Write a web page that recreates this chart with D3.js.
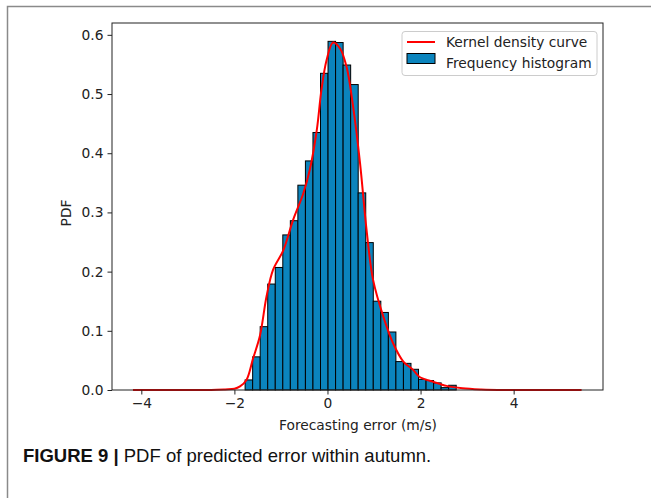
<!DOCTYPE html>
<html>
<head>
<meta charset="utf-8">
<script src="https://cdn.jsdelivr.net/npm/d3@7"></script>
<style>
  body { margin: 0; background: #fff; }
  svg { display: block; }
</style>
</head>
<body>
<script>
//histogram bins (left edge of first bin, bin width) and bar heights
var binStart = -1.77,
    binWidth = 0.162;
var binHeights = [0.017, 0.056, 0.107, 0.179, 0.207, 0.262, 0.286, 0.346, 0.387, 0.435,
                  0.535, 0.589, 0.587, 0.549, 0.516, 0.333, 0.249, 0.150, 0.131, 0.098,
                  0.048, 0.045, 0.035, 0.018, 0.016, 0.012, 0.004, 0.008];

//kernel density curve
var kdeX = [-4.18, -3.0, -2.5, -2.2, -2.0, -1.88, -1.74, -1.60, -1.45, -1.31, -1.17, -0.95,
            -0.74, -0.52, -0.38, -0.23, -0.13, -0.02, 0.12, 0.27, 0.41, 0.55, 0.70, 0.84,
            0.98, 1.20, 1.41, 1.63, 1.84, 1.98, 2.27, 2.56, 2.9, 3.3, 3.8, 4.5, 5.46];
var kdeY = [0, 0, 0, 0.001, 0.002, 0.006, 0.017, 0.053, 0.092, 0.158, 0.203, 0.236,
            0.287, 0.332, 0.372, 0.439, 0.507, 0.557, 0.587, 0.577, 0.546, 0.479, 0.383, 0.270,
            0.186, 0.124, 0.079, 0.048, 0.034, 0.022, 0.014, 0.007, 0.003, 0.001, 0, 0, 0];

var xTicks = [-4, -2, 0, 2, 4],
    yTicks = [0, 0.1, 0.2, 0.3, 0.4, 0.5, 0.6];

var width = 651,
    height = 498,
    fontSize = "13.8px";

var svg = d3.select("body")
    .append("svg")
    .attr("width", width)
    .attr("height", height);

//figure frame (top and left edges)
svg.append("path")
    .attr("d", "M7.5,498V6.5H651")
    .attr("fill", "none")
    .attr("stroke", "#8a8a8a")
    .attr("stroke-width", 1.5);

var x = d3.scaleLinear().domain([-4.63, 5.92]).range([112, 603]);
var y = d3.scaleLinear().domain([0, 0.62]).range([390, 23]);

//bars
var bins = binHeights.map(function(h, i){
    return {x0: binStart + i * binWidth, x1: binStart + (i + 1) * binWidth, h: h};
});

svg.selectAll(".bar")
    .data(bins)
    .enter()
    .append("rect")
    .attr("class", "bar")
    .attr("x", function(d){ return x(d.x0); })
    .attr("width", function(d){ return x(d.x1) - x(d.x0); })
    .attr("y", function(d){ return y(d.h); })
    .attr("height", function(d){ return y(0) - y(d.h); })
    .attr("fill", "#0b84bd")
    .attr("stroke", "#000")
    .attr("stroke-width", 1);

//density curve
var line = d3.line()
    .x(function(d){ return x(d[0]); })
    .y(function(d){ return y(d[1]); })
    .curve(d3.curveCatmullRom);

svg.append("path")
    .datum(d3.zip(kdeX, kdeY))
    .attr("d", line)
    .attr("fill", "none")
    .attr("stroke", "#f00")
    .attr("stroke-width", 2);

//axes
var xAxis = svg.append("g")
    .attr("transform", "translate(0,390)")
    .call(d3.axisBottom(x).tickValues(xTicks).tickSize(4.5).tickPadding(4)
        .tickFormat(function(d){ return d < 0 ? "\u2212" + Math.abs(d) : d; }));

var yAxis = svg.append("g")
    .attr("transform", "translate(112,0)")
    .call(d3.axisLeft(y).tickValues(yTicks).tickSize(4.5).tickPadding(4)
        .tickFormat(d3.format(".1f")));

[xAxis, yAxis].forEach(function(g){
    g.select(".domain").remove();
    g.selectAll("line").attr("stroke", "#222");
    g.selectAll("text")
        .attr("fill", "#222")
        .style("font-family", "DejaVu Sans")
        .style("font-size", fontSize);
});

//plot frame
svg.append("rect")
    .attr("x", 112).attr("y", 23)
    .attr("width", 491).attr("height", 367)
    .attr("fill", "none")
    .attr("stroke", "#222")
    .attr("stroke-width", 1);

//axis titles
svg.append("text")
    .attr("x", 358).attr("y", 430)
    .attr("text-anchor", "middle")
    .style("font-family", "DejaVu Sans").style("font-size", fontSize)
    .attr("fill", "#222")
    .text("Forecasting error (m/s)");

svg.append("text")
    .attr("transform", "translate(71,213) rotate(-90)")
    .attr("text-anchor", "middle")
    .style("font-family", "DejaVu Sans").style("font-size", fontSize)
    .attr("fill", "#222")
    .text("PDF");

//legend
var legend = svg.append("g");
legend.append("rect")
    .attr("x", 402).attr("y", 31.5)
    .attr("width", 195).attr("height", 44)
    .attr("rx", 3)
    .attr("fill", "#fff").attr("fill-opacity", 0.8)
    .attr("stroke", "#ccc");
legend.append("line")
    .attr("x1", 407).attr("x2", 435)
    .attr("y1", 42).attr("y2", 42)
    .attr("stroke", "#f00").attr("stroke-width", 2);
legend.append("rect")
    .attr("x", 407).attr("y", 53.5)
    .attr("width", 28).attr("height", 10)
    .attr("fill", "#0b84bd").attr("stroke", "#000");
legend.selectAll(".ltext")
    .data(["Kernel density curve", "Frequency histogram"])
    .enter()
    .append("text")
    .attr("x", 446)
    .attr("y", function(d, i){ return 47 + i * 21; })
    .style("font-family", "DejaVu Sans").style("font-size", fontSize)
    .attr("fill", "#222")
    .text(function(d){ return d; });

//caption
var caption = svg.append("text")
    .attr("x", 23).attr("y", 462)
    .style("font-family", "Liberation Sans").style("font-size", "18.5px")
    .attr("fill", "#111");
caption.append("tspan").style("font-weight", "bold").text("FIGURE 9 | ");
caption.append("tspan").text("PDF of predicted error within autumn.");
</script>
</body>
</html>
